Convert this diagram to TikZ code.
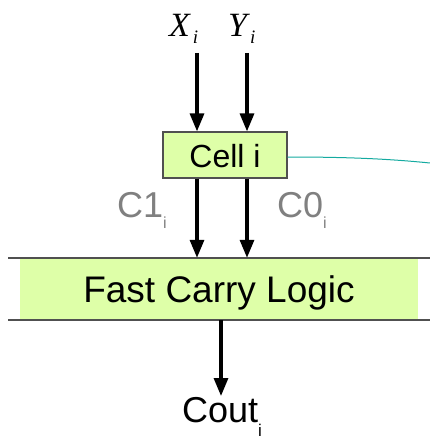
\documentclass[tikz,border=0pt]{standalone}
\usepackage{fontspec}
\setmainfont{Liberation Sans}
\newfontfamily\serifit{Liberation Serif}
\usetikzlibrary{arrows.meta}
\definecolor{boxgreen}{RGB}{222,255,168}
\definecolor{edgegray}{RGB}{80,80,80}
\definecolor{labgray}{RGB}{128,128,128}
\definecolor{tealline}{RGB}{20,170,160}
\begin{document}
\begin{tikzpicture}[x=1pt,y=-1pt,
  bigarrow/.style={line width=3.2pt,-{Triangle[length=18pt,width=14pt]}},
  txt/.style={inner sep=0pt,anchor=base west}]
\useasboundingbox (0,0) rectangle (430,441);
% Fast carry logic band
\fill[boxgreen] (20,258) rectangle (418,320);
\node[inner sep=0pt,minimum width=398pt,minimum height=62pt] (fcl) at (219,289) {};
\node[inner sep=0pt,anchor=base] (fcltext) at (219,302) {\fontsize{37}{40}\selectfont Fast Carry Logic};
\coordinate (tl) at (8,258); \coordinate (tr) at (430,258);
\coordinate (bl) at (8,320); \coordinate (br) at (430,320);
\draw[edgegray,line width=1.5pt] (tl) -- (tr);
\draw[edgegray,line width=1.5pt] (bl) -- (br);
% Cell box
\node[draw=edgegray,fill=boxgreen,line width=1.2pt,inner sep=0pt,minimum width=124pt,minimum height=46pt] (cell) at (225,155) {};
\node[inner sep=0pt,anchor=base] (celltext) at (225,167) {\fontsize{32}{34}\selectfont Cell i};
% teal line
\coordinate (tealend) at (430,163);
\draw[tealline,line width=1pt] (cell.east |- 0,157) .. controls (350,157) and (390,159) .. (tealend);
% labels
\node[txt] (X) at (169,37) {\fontsize{34}{36}\selectfont\serifit\itshape X\kern3pt\raisebox{-7pt}{\fontsize{19}{20}\selectfont i}};
\node[txt] (Y) at (228,37) {\fontsize{34}{36}\selectfont\serifit\itshape Y\kern3pt\raisebox{-7pt}{\fontsize{19}{20}\selectfont i}};
\node[txt,text=labgray] (C1) at (117,217) {\fontsize{36}{38}\selectfont C1\raisebox{-11pt}{\fontsize{16}{17}\selectfont i}};
\node[txt,text=labgray] (C0) at (277,217) {\fontsize{36}{38}\selectfont C0\raisebox{-11pt}{\fontsize{16}{17}\selectfont i}};
\node[txt] (cout) at (182,422) {\fontsize{36}{38}\selectfont Cout\raisebox{-14pt}{\fontsize{17}{18}\selectfont i}};
% arrows
\coordinate (xs) at (197,53); \coordinate (ys) at (247,53);
\draw[bigarrow] (xs) -- (xs |- cell.north);
\draw[bigarrow] (ys) -- (ys |- cell.north);
\draw[bigarrow] (xs |- cell.south) -- (xs |- fcl.north);
\draw[bigarrow] (ys |- cell.south) -- (ys |- fcl.north);
\coordinate (coutend) at (221,396);
\draw[bigarrow] (coutend |- fcl.south) -- (coutend);
\end{tikzpicture}
\end{document}
